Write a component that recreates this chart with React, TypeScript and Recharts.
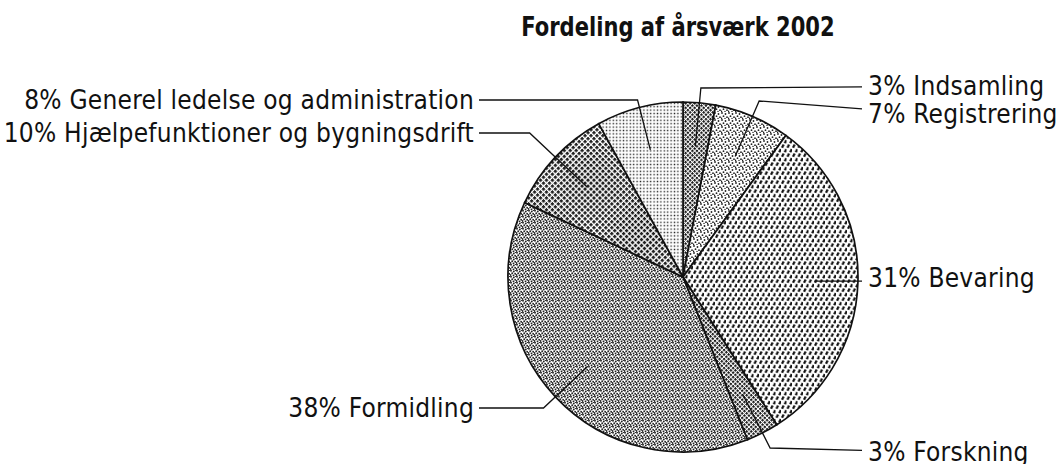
import React from 'react';
import { PieChart, Pie, Cell } from 'recharts';

const categories = [
  'Indsamling',
  'Registrering',
  'Bevaring',
  'Forskning',
  'Formidling',
  'Hjælpefunktioner og bygningsdrift',
  'Generel ledelse og administration',
];
const shares = [3, 7, 31, 3, 38, 10, 8];

// layout of the label rows (y of text, y of the leader elbow)
const labelY = [86, 114, 278, 452, 408, 133, 100];
const elbowY = [88, 101, 278, 448, 408, 133, 100];

const PATTERNS = ['pDark', 'pLight', 'pDash', 'pDark', 'pStipple', 'pCheck', 'pDots'];

const CX = 678;
const CY = 272;
const R = 175;
const RIGHT_X = 868;
const LEFT_X = 474;
const FONT = '"DejaVu Sans Condensed", "Liberation Sans Narrow", sans-serif';

const data = categories.map((name, i) => ({ name, value: shares[i] }));

const RAD = Math.PI / 180;

function renderLabel(props: any) {
  const { cx, cy, midAngle, outerRadius, index } = props;
  const s = Math.sin(midAngle * RAD);
  const c = Math.cos(midAngle * RAD);
  const r0 = outerRadius * 0.75;
  const x0 = cx + r0 * c;
  const y0 = cy - r0 * s;
  const ey = elbowY[index];
  let re = Math.abs(s) > 0.01 ? (cy - ey) / s : r0;
  if (re < r0) re = r0;
  const ex = cx + re * c;
  const eyy = re === r0 ? y0 : ey;
  const right = ex > cx;
  const ty = labelY[index];
  const lineEnd = right ? RIGHT_X - 6 : LEFT_X + 5;
  const endY = re === r0 ? y0 : ey + (ty - ey) * 0.6;
  return (
    <g key={`lab-${index}`}>
      <polyline
        points={`${x0},${y0} ${ex},${eyy} ${lineEnd},${endY}`}
        fill="none"
        stroke="#111"
        strokeWidth={1.3}
      />
      <text
        x={right ? RIGHT_X : LEFT_X}
        y={ty}
        textAnchor={right ? 'start' : 'end'}
        dominantBaseline="central"
        fill="#111"
        fontFamily={FONT}
        fontSize={26}
        letterSpacing={0.25}
      >
        {`${shares[index]}% ${categories[index]}`}
      </text>
    </g>
  );
}

export default function App() {
  return (
    <div style={{ position: 'absolute', left: 0, top: 0, width: 1063, height: 464, background: '#fff' }}>
      <div
        style={{
          position: 'absolute',
          left: CX,
          top: 12,
          transform: 'translateX(-50%) scaleX(0.9)',
          fontFamily: '"DejaVu Sans Condensed", "Liberation Sans Narrow", sans-serif',
          fontWeight: 'bold',
          fontSize: 26,
          lineHeight: '30px',
          color: '#111',
          whiteSpace: 'nowrap',
        }}
      >
        Fordeling af årsværk 2002
      </div>
      <PieChart width={1063} height={464}>
        <defs>
          <pattern id="pDark" width="3.2" height="3.2" patternUnits="userSpaceOnUse" patternTransform="rotate(45)">
            <rect width="3.2" height="3.2" fill="#fff" />
            <rect x="0" y="0" width="2.2" height="2.2" fill="#1a1a1a" />
          </pattern>
          <pattern id="pCheck" width="4.2" height="4.2" patternUnits="userSpaceOnUse" patternTransform="rotate(45)">
            <rect width="4.2" height="4.2" fill="#fff" />
            <rect x="0" y="0" width="2.9" height="2.9" fill="#222" />
          </pattern>
          <pattern id="pLight" width="7" height="7" patternUnits="userSpaceOnUse">
            <rect width="7" height="7" fill="#fff" />
            <circle cx="1" cy="1" r="0.9" fill="#222" />
            <circle cx="4.5" cy="2" r="0.9" fill="#222" />
            <circle cx="2.5" cy="4.2" r="0.9" fill="#222" />
            <circle cx="6" cy="5.2" r="0.9" fill="#222" />
            <circle cx="0.5" cy="6.3" r="0.8" fill="#222" />
            <circle cx="4" cy="6.5" r="0.7" fill="#222" />
          </pattern>
          <pattern id="pStipple" width="6" height="6" patternUnits="userSpaceOnUse">
            <rect width="6" height="6" fill="#fff" />
            <circle cx="1" cy="0.8" r="0.95" fill="#222" />
            <circle cx="3.8" cy="1.5" r="0.95" fill="#222" />
            <circle cx="2.2" cy="3.2" r="0.95" fill="#222" />
            <circle cx="5.2" cy="3.8" r="0.95" fill="#222" />
            <circle cx="0.6" cy="5" r="0.9" fill="#222" />
            <circle cx="3.5" cy="5.4" r="0.9" fill="#222" />
            <circle cx="5.4" cy="0.2" r="0.7" fill="#222" />
          </pattern>
          <pattern id="pDash" width="5.5" height="9" patternUnits="userSpaceOnUse">
            <rect width="5.5" height="9" fill="#fff" />
            <line x1="1" y1="3.8" x2="2.6" y2="0.6" stroke="#111" strokeWidth="2.2" />
            <line x1="3.75" y1="8.3" x2="5.35" y2="5.1" stroke="#111" strokeWidth="2.2" />
          </pattern>
          <pattern id="pDots" width="3.4" height="3.4" patternUnits="userSpaceOnUse">
            <rect width="3.4" height="3.4" fill="#fff" />
            <rect x="0.6" y="0.6" width="1.4" height="1.4" fill="#222" />
          </pattern>
        </defs>
        <Pie
          data={data}
          dataKey="value"
          nameKey="name"
          cx={CX}
          cy={CY}
          outerRadius={R}
          startAngle={90}
          endAngle={-270}
          stroke="#111"
          strokeWidth={1.7}
          label={renderLabel}
          labelLine={false}
          isAnimationActive={false}
        >
          {data.map((entry, index) => (
            <Cell key={`cell-${index}`} fill={`url(#${PATTERNS[index]})`} />
          ))}
        </Pie>
      </PieChart>
    </div>
  );
}
